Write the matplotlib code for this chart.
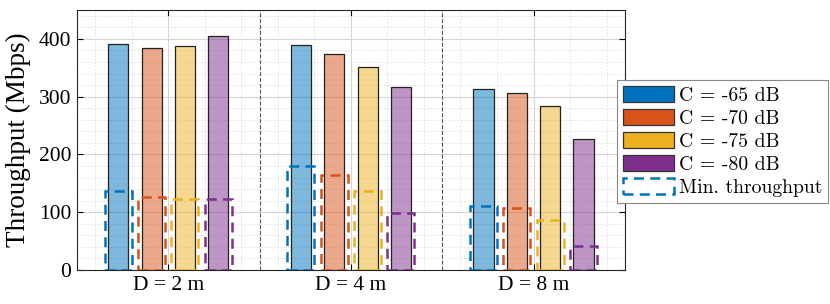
import numpy as np
import matplotlib
matplotlib.use('Agg')
import matplotlib.pyplot as plt
from matplotlib.patches import Patch
from matplotlib.ticker import MultipleLocator

# Дані
groups = ['D = 2 m', 'D = 4 m', 'D = 8 m']
labels = ['C = -65 dB', 'C = -70 dB', 'C = -75 dB', 'C = -80 dB']
throughput = [
    [392, 390, 313],   # C = -65 dB
    [385, 374, 306],   # C = -70 dB
    [388, 352, 283],   # C = -75 dB
    [405, 316, 226],   # C = -80 dB
]
min_throughput = [
    [136, 180, 110],
    [126, 164, 108],
    [122, 136, 86],
    [122, 98, 41],
]
colors = ['#0072BD', '#D95319', '#EDB120', '#7E2F8E']

plt.rcParams['font.family'] = 'Liberation Serif'

fig = plt.figure(figsize=(8.3, 3.04), dpi=100)
ax = fig.add_axes([0.0928, 0.112, 0.660, 0.855])

x = np.arange(1, len(groups) + 1)
step = 0.1825
for i in range(len(labels)):
    pos = x + (i - 1.5) * step
    ax.bar(pos, throughput[i], width=0.11, color=colors[i], alpha=0.5,
           edgecolor='none', zorder=3)
    ax.bar(pos, throughput[i], width=0.11, fill=False,
           edgecolor='#222222', linewidth=0.9, zorder=4)
    ax.bar(pos, min_throughput[i], width=0.148, fill=False,
           edgecolor=colors[i], linestyle=(0, (4, 2.5)), linewidth=1.8, zorder=5)

for sep in [1.5, 2.5]:
    ax.axvline(sep, color='#555555', linestyle='--', linewidth=0.8, zorder=2)

ax.set_xlim(0.5, 3.5)
ax.set_ylim(0, 450)
ax.set_xticks(x)
ax.set_xticklabels(groups, fontsize=15.5)
ax.set_yticks([0, 100, 200, 300, 400])
ax.tick_params(axis='y', labelsize=15.5)
ax.xaxis.set_minor_locator(MultipleLocator(0.2))
ax.yaxis.set_minor_locator(MultipleLocator(20))
ax.tick_params(which='both', direction='in', top=True, right=True)
ax.tick_params(which='minor', length=0)
ax.tick_params(which='major', length=4, width=0.8, pad=4)
ax.grid(which='major', color='#d6d6d6', linewidth=0.8, zorder=0)
ax.grid(which='minor', color='#dddddd', linestyle=(0, (2, 2)), linewidth=0.6, zorder=0)
ax.set_axisbelow(True)
for s in ax.spines.values():
    s.set_color('#262626')
    s.set_linewidth(0.8)
ax.set_ylabel('Throughput (Mbps)', fontsize=19.5, labelpad=6)

handles = [Patch(facecolor=c, edgecolor='#333333', linewidth=0.9) for c in colors]
handles.append(Patch(fill=False, edgecolor=colors[0], linestyle=(0, (4, 2.5)), linewidth=1.8))
leg = fig.legend(handles, labels + ['Min. throughput'], loc='upper left',
                 bbox_to_anchor=(0.743, 0.737), fancybox=False, edgecolor='#888888',
                 framealpha=1, handlelength=2.6, handleheight=0.9, handletextpad=0.25,
                 labelspacing=0.2, borderpad=0.3, borderaxespad=0,
                 prop={'family': 'cmr10', 'size': 14.2})
leg.get_frame().set_linewidth(0.8)

fig.savefig('out.png', dpi=100)
